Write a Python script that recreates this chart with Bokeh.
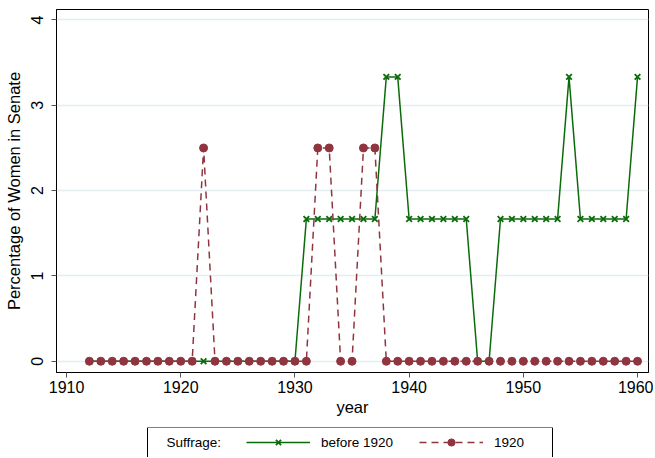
from bokeh.plotting import figure
from bokeh.models import Legend, LegendItem, FixedTicker, Range1d, Label, BoxAnnotation
from bokeh.layouts import column
from bokeh.embed import file_html
from bokeh.resources import INLINE

years = list(range(1912, 1961))

before_1920 = ([0.0] * 19 +                 # 1912-1930
               [1.667] * 7 +                # 1931-1937
               [3.333, 3.333] +             # 1938-1939
               [1.667] * 6 +                # 1940-1945
               [0.0, 0.0] +                 # 1946-1947
               [1.667] * 6 +                # 1948-1953
               [3.333] +                    # 1954
               [1.667] * 5 +                # 1955-1959
               [3.333])                     # 1960

s1920 = ([0.0] * 10 +                       # 1912-1921
         [2.5] +                            # 1922
         [0.0] * 9 +                        # 1923-1931
         [2.5, 2.5] +                       # 1932-1933
         [0.0, 0.0] +                       # 1934-1935
         [2.5, 2.5] +                       # 1936-1937
         [0.0] * 23)                        # 1938-1960

x_ticks = [1910, 1920, 1930, 1940, 1950, 1960]
y_ticks = [0, 1, 2, 3, 4]

GREEN = "#0b6b0b"
MAROON = "#903540"
FONT = "Liberation Sans"
W = 653
LEFT, RIGHT = 56, 648

xr = Range1d(1909.12, 1960.96)

p = figure(width=W, height=427, output_backend="svg", toolbar_location=None,
           x_range=xr, y_range=Range1d(-0.132, 4.123),
           min_border_left=LEFT, min_border_right=W - RIGHT, min_border_top=9, min_border_bottom=55)

p.outline_line_color = "black"
p.outline_line_width = 1
p.background_fill_color = "white"
p.border_fill_color = "white"

p.line(years, before_1920, line_color=GREEN, line_width=1.5)
p.scatter(years, before_1920, marker="x", size=8, line_color=GREEN, line_width=1.8)
p.line(years, s1920, line_color=MAROON, line_width=1.5, line_dash="7 5")
p.scatter(years, s1920, marker="circle", size=8, fill_color=MAROON, line_color=MAROON)

p.xgrid.visible = False
p.ygrid.ticker = FixedTicker(ticks=y_ticks)
p.ygrid.grid_line_color = "#e4eef0"
p.ygrid.grid_line_width = 1.5

p.xaxis.ticker = FixedTicker(ticks=x_ticks)
p.yaxis.ticker = FixedTicker(ticks=y_ticks)
for ax in (p.xaxis[0], p.yaxis[0]):
    ax.axis_line_color = "black"
    ax.major_tick_line_color = "#555555"
    ax.major_tick_out = 5
    ax.major_tick_in = 0
    ax.minor_tick_line_color = None
    ax.major_label_text_font = FONT
    ax.major_label_text_font_size = "16px"
    ax.major_label_text_color = "black"
    ax.axis_label_text_font = FONT
    ax.axis_label_text_font_size = "16.5px"
    ax.axis_label_text_font_style = "normal"
    ax.axis_label_text_color = "black"

p.xaxis.axis_label = "year"
p.xaxis.major_label_standoff = 3
p.xaxis.axis_label_standoff = 2
p.yaxis.axis_label = "Percentage of Women in Senate"
p.yaxis.major_label_orientation = "vertical"
p.yaxis.major_label_standoff = 8
p.yaxis.axis_label_standoff = 6

# legend strip below the chart (same frame borders as the chart; column aligns them)
lg = figure(width=W, height=30, output_backend="svg", toolbar_location=None,
            x_range=xr, y_range=Range1d(10, 11),
            x_axis_location=None, y_axis_location=None,
            min_border_left=LEFT, min_border_right=W - RIGHT,
            min_border_top=0, min_border_bottom=0)
lg.outline_line_color = None
lg.grid.visible = False
lg.background_fill_color = "white"
lg.border_fill_color = "white"

# key renderers (same series, outside this strip's visible y range)
lg_g_line = lg.line(years, before_1920, line_color=GREEN, line_width=1.5)
lg_g_mark = lg.scatter(years, before_1920, marker="x", size=8, line_color=GREEN, line_width=1.8)
lg_m_line = lg.line(years, s1920, line_color=MAROON, line_width=1.5, line_dash="7 5")
lg_m_mark = lg.scatter(years, s1920, marker="circle", size=8, fill_color=MAROON, line_color=MAROON)

def px_to_year(px):
    return xr.start + (px - LEFT) * (xr.end - xr.start) / (RIGHT - LEFT)

lg.add_layout(BoxAnnotation(left=px_to_year(147), right=px_to_year(552), bottom=0, top=11,
                            fill_alpha=0, line_color="black", line_width=1, line_alpha=1))

items = [
    LegendItem(label="before 1920", renderers=[lg_g_line, lg_g_mark]),
    LegendItem(label="1920", renderers=[lg_m_line, lg_m_mark]),
]
legend = Legend(items=items, orientation="horizontal", location=(246 - LEFT, 6),
                glyph_width=64, glyph_height=18, label_standoff=11, spacing=26,
                padding=0, margin=0, label_text_font=FONT, label_text_font_size="13.5px",
                label_height=18, label_text_color="black",
                border_line_color=None, background_fill_alpha=0)
lg.add_layout(legend)

lg.add_layout(Label(x=px_to_year(166), y=10.5, x_units="data", y_units="data", text="Suffrage:",
                    text_font=FONT, text_font_size="13.5px", text_baseline="middle",
                    text_align="left", text_color="black"))

page = column(p, lg, spacing=0)
open("out.html", "w").write(file_html(page, INLINE))
